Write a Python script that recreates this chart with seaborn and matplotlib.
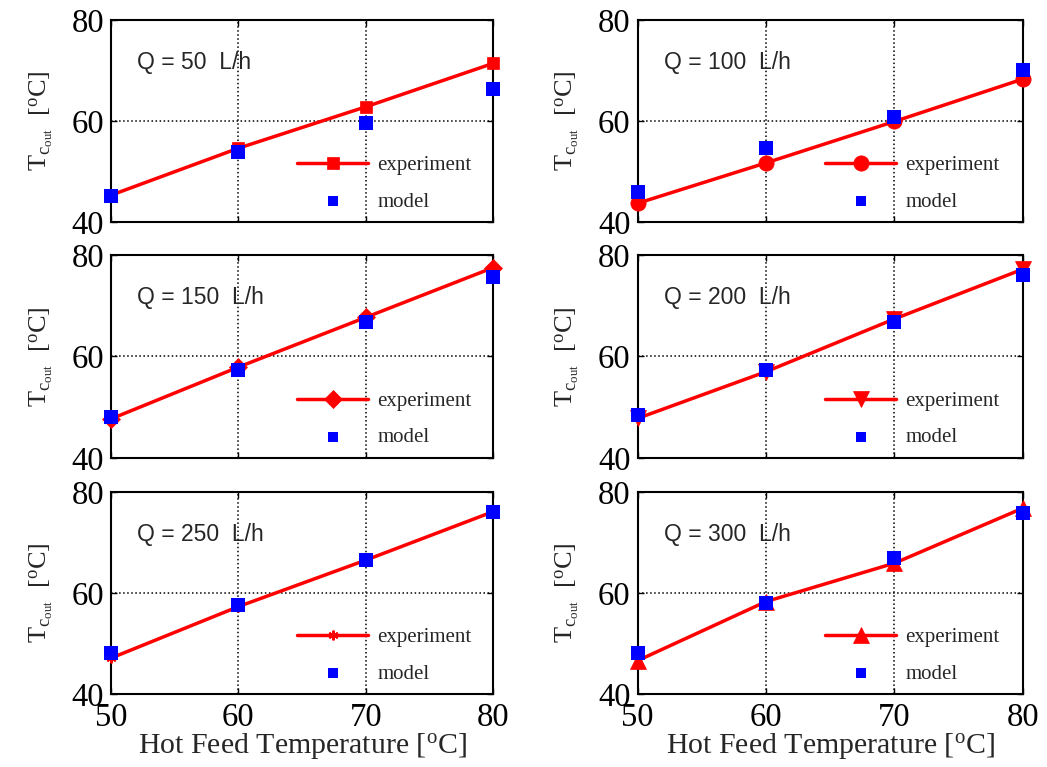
import numpy as np
import pandas as pd
import matplotlib
matplotlib.use("Agg")
import matplotlib.pyplot as plt
import seaborn as sns

# hot feed temperature [oC]
temps = [50, 60, 70, 80]
flows = [50, 100, 150, 200, 250, 300]

# experiment (red line) per flow rate
exp_50 = [45.3, 54.6, 62.8, 71.4]
exp_100 = [43.7, 51.7, 59.9, 68.3]
exp_150 = [47.7, 57.9, 67.7, 77.5]
exp_200 = [47.8, 57.0, 67.4, 77.2]
exp_250 = [47.1, 57.3, 66.5, 76.1]
exp_300 = [46.6, 58.3, 65.9, 76.8]

# model (blue squares) per flow rate
mod_50 = [45.2, 53.8, 59.5, 66.3]
mod_100 = [45.9, 54.6, 60.7, 70.0]
mod_150 = [48.0, 57.3, 66.7, 75.6]
mod_200 = [48.5, 57.3, 66.7, 76.1]
mod_250 = [48.2, 57.6, 66.5, 76.1]
mod_300 = [48.2, 58.0, 66.9, 75.9]

experiments = [exp_50, exp_100, exp_150, exp_200, exp_250, exp_300]
models = [mod_50, mod_100, mod_150, mod_200, mod_250, mod_300]
markers = ['s', 'o', 'D', 'v', (6, 2, 0), '^']
msizes = [8, 11, 9.5, 11, 7, 11]

sns.set_style("ticks")
plt.rcParams['font.family'] = ['Liberation Serif', 'DejaVu Serif']
plt.rcParams['mathtext.fontset'] = 'custom'
plt.rcParams['mathtext.rm'] = 'Liberation Serif'
plt.rcParams['mathtext.it'] = 'Liberation Serif:italic'

fig = plt.figure(figsize=(10.47, 7.67), dpi=100)
lefts = [0.106, 0.609]
widths = [0.365, 0.368]
bottoms = [0.7106, 0.4029, 0.0952]
heights = [0.2634, 0.2647, 0.2634]

for i, q in enumerate(flows):
    r, c = divmod(i, 2)
    ax = fig.add_axes([lefts[c], bottoms[r], widths[c], heights[r]])
    df = pd.DataFrame({'T': temps, 'exp': experiments[i], 'mod': models[i]})
    sns.lineplot(data=df, x='T', y='exp', ax=ax, color='red', lw=2.5,
                 marker=markers[i], markersize=msizes[i], markeredgecolor='red',
                 markeredgewidth=1.5 if i == 4 else 0.5, label='experiment',
                 clip_on=False, zorder=4)
    sns.scatterplot(data=df, x='T', y='mod', ax=ax, color='blue', marker='s',
                    s=110, edgecolor='blue', linewidth=0, label='model',
                    zorder=5, clip_on=False)
    ax.set_xlim(50, 80)
    ax.set_ylim(40, 80)
    ax.set_xticks([50, 60, 70, 80])
    ax.set_yticks([40, 60, 80])
    ax.grid(True, ls=':', color='black', lw=1.1)
    ax.tick_params(direction='in', top=True, right=True, length=4, width=1,
                   labelsize=23.5, colors='black')
    ax.tick_params(axis='y', pad=5)
    ax.tick_params(axis='x', pad=6)
    for sp in ax.spines.values():
        sp.set_linewidth(1.5)
        sp.set_color('black')
    if r == 2:
        ax.set_xlabel(r'Hot Feed Temperature [$^{\mathrm{o}}$C]', fontsize=21.5, labelpad=-1)
    else:
        ax.set_xlabel('')
        ax.set_xticklabels([])
    ax.set_ylabel(r'$\mathrm{T_{c_{out}}}$  [$^{\mathrm{o}}$C]', fontsize=19, labelpad=12)
    ax.text(0.068, 0.79, f'Q = {q}  L/h', transform=ax.transAxes, fontsize=16.5,
            family='Liberation Sans', va='center', ha='left')
    leg = ax.legend(loc='center left', bbox_to_anchor=(0.487, 0.19), frameon=False,
                    fontsize=15, handlelength=3.4, handletextpad=0.45,
                    borderpad=0, borderaxespad=0, labelspacing=0.8)
    leg.legend_handles[1].set_sizes([50])

fig.savefig('out.png', dpi=100)
